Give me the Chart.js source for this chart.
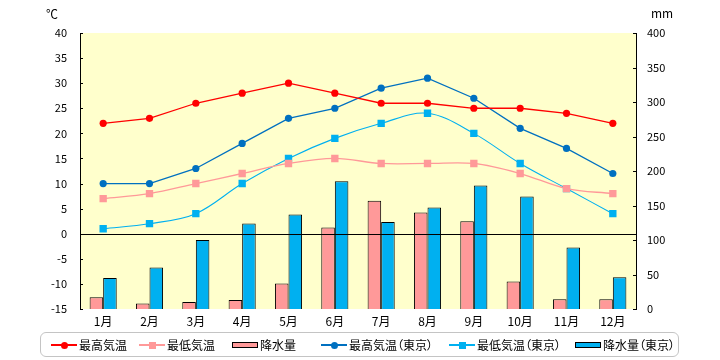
<!DOCTYPE html>
<html><head><meta charset="utf-8">
<script src="https://cdn.jsdelivr.net/npm/chart.js@4/dist/chart.umd.min.js"></script>
<style>
html,body{margin:0;padding:0;background:#fff;}
#wrap{position:relative;width:720px;height:360px;}
#legend{position:absolute;left:40px;top:332px;width:637px;height:23px;border:1.5px solid #c4c4c4;border-radius:6px;
 font-family:"Noto Sans CJK JP",sans-serif;font-size:12px;font-feature-settings:"palt";color:#000;}
.item{position:absolute;top:0;height:23px;display:flex;align-items:center;white-space:nowrap;}
.sym{position:relative;width:26px;height:23px;margin-right:2px;}
.ln{position:absolute;left:0;width:26px;top:11px;height:1.5px;}
.mk{position:absolute;left:9.5px;top:8.5px;width:7px;height:7px;}
.bx{position:absolute;left:0;top:9px;width:24px;height:4px;border:1px solid #000;}
.unit{position:absolute;font-family:"Noto Sans CJK JP",sans-serif;font-size:12px;color:#000;}
</style></head>
<body>
<div id="wrap">
<canvas id="c" width="720" height="360"></canvas>
<div class="unit" style="left:46px;top:5px;">℃</div>
<div class="unit" style="left:651px;top:4px;">mm</div>
<div id="legend"></div>
</div>
<script>
const months = ['1月','2月','3月','4月','5月','6月','7月','8月','9月','10月','11月','12月'];
const maxTemp = [22,23,26,28,30,28,26,26,25,25,24,22];
const minTemp = [7,8,10,12,14,15,14,14,14,12,9,8];
const precip = [17,8,10,13,37,118,157,140,127,40,14,14];
const maxTempTokyo = [10,10,13,18,23,25,29,31,27,21,17,12];
const minTempTokyo = [1,2,4,10,15,19,22,24,20,14,9,4];
const precipTokyo = [45,60,100,124,137,185,126,147,179,163,89,46];
const seriesNames = ['最高気温','最低気温','降水量','最高気温（東京）','最低気温（東京）','降水量（東京）'];

const FONT = '"Noto Sans CJK JP", sans-serif';

function lineDs(label, data, color, style, tension, radius, width) {
  return {type:'line', label, data, yAxisID:'y', order:0,
    borderColor:color, backgroundColor:color, pointBackgroundColor:color, pointBorderColor:color,
    borderWidth:width, pointStyle:style, pointRadius:radius, pointBorderWidth:0, tension, fill:false};
}
function barDs(label, data, color) {
  return {type:'bar', label, data, yAxisID:'y2', order:1, backgroundColor:color,
    borderColor:'#000', borderWidth:1, categoryPercentage:0.585, barPercentage:1.0};
}

const datasets = [
  lineDs(seriesNames[0], maxTemp, '#ff0000', 'circle', 0, 3.6, 1.3),
  lineDs(seriesNames[1], minTemp, '#ff9999', 'rect', 0.35, 5.2, 1.3),
  barDs(seriesNames[2], precip, '#ff9999'),
  lineDs(seriesNames[3], maxTempTokyo, '#0070c0', 'circle', 0, 3.6, 1.3),
  lineDs(seriesNames[4], minTempTokyo, '#00b0f0', 'rect', 0.35, 5.2, 1.1),
  barDs(seriesNames[5], precipTokyo, '#00b0f0'),
];

const areaPlugin = {
  id:'area',
  beforeDraw(chart){
    const a = chart.chartArea, ctx = chart.ctx;
    ctx.save(); ctx.fillStyle = '#ffffcc';
    ctx.fillRect(a.left, a.top, a.right - a.left, a.bottom - a.top);
    ctx.restore();
  },
  afterDatasetsDraw(chart){
    const a = chart.chartArea, ctx = chart.ctx, y = chart.scales.y, y2 = chart.scales.y2;
    ctx.save();
    ctx.strokeStyle = '#000'; ctx.lineWidth = 1;
    const z = Math.round(y.getPixelForValue(0)) + 0.5;
    ctx.beginPath(); ctx.moveTo(a.left, z); ctx.lineTo(a.right, z); ctx.stroke();
    ctx.beginPath();
    y.ticks.forEach(t => { const p = Math.round(y.getPixelForValue(t.value)) + 0.5; ctx.moveTo(a.left, p); ctx.lineTo(a.left + 3, p); });
    y2.ticks.forEach(t => { const p = Math.round(y2.getPixelForValue(t.value)) + 0.5; ctx.moveTo(a.right - 3, p); ctx.lineTo(a.right, p); });
    ctx.stroke();
    ctx.restore();
  }
};

const chart = new Chart(document.getElementById('c'), {
  data:{labels:months, datasets},
  options:{
    responsive:false, animation:false, devicePixelRatio:1,
    layout:{padding:{top:33,left:0,right:0,bottom:0}},
    plugins:{legend:{display:false}, tooltip:{enabled:false}},
    scales:{
      x:{type:'category', offset:true, grid:{display:false, drawTicks:false}, border:{display:false},
        ticks:{color:'#000', font:{family:FONT, size:12}, padding:5, maxRotation:0},
        afterFit(s){ s.height = 51; }},
      y:{position:'left', min:-15, max:40, grid:{display:false, drawTicks:false},
        border:{display:true, color:'#000', width:1},
        ticks:{stepSize:5, color:'#000', font:{family:FONT, size:11}, padding:13},
        afterFit(s){ s.width = 80; }},
      y2:{position:'right', min:0, max:400, grid:{display:false, drawTicks:false},
        border:{display:true, color:'#000', width:1},
        ticks:{stepSize:50, color:'#000', font:{family:FONT, size:11}, padding:11},
        afterFit(s){ s.width = 84; }}
    }
  },
  plugins:[areaPlugin]
});

// HTML legend built from the chart's datasets
const legendX = [10, 98, 191, 280, 408, 534];
const leg = document.getElementById('legend');
chart.data.datasets.forEach((ds, i) => {
  const item = document.createElement('div');
  item.className = 'item'; item.style.left = legendX[i] + 'px';
  const sym = document.createElement('div'); sym.className = 'sym';
  if (ds.type === 'line') {
    const ln = document.createElement('div'); ln.className = 'ln'; ln.style.background = ds.borderColor; sym.appendChild(ln);
    const mk = document.createElement('div'); mk.className = 'mk'; mk.style.background = ds.borderColor;
    if (ds.pointStyle === 'circle') { mk.style.borderRadius = '50%'; }
    sym.appendChild(mk);
  } else {
    const bx = document.createElement('div'); bx.className = 'bx'; bx.style.background = ds.backgroundColor; sym.appendChild(bx);
  }
  item.appendChild(sym);
  const tx = document.createElement('span'); tx.textContent = ds.label; item.appendChild(tx);
  leg.appendChild(item);
});
</script>
</body></html>
